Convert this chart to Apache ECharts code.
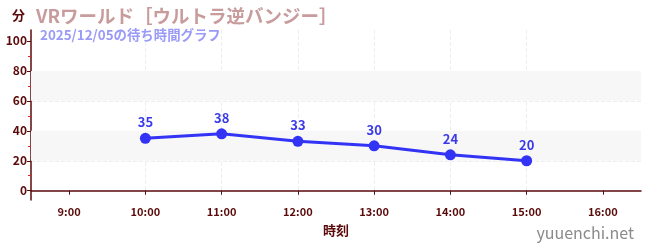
<!DOCTYPE html>
<html>
<head>
<meta charset="utf-8">
<script src="https://cdn.jsdelivr.net/npm/echarts@6/dist/echarts.min.js"></script>
<style>html,body{margin:0;padding:0;background:#fff;}#c{width:650px;height:250px;}</style>
</head>
<body>
<div id="c"></div>
<script>
const titleText = 'VRワールド［ウルトラ逆バンジー］';
const subtitleText = '2025/12/05の待ち時間グラフ';
const times = ['10:00', '11:00', '12:00', '13:00', '14:00', '15:00'];
const waits = [35, 38, 33, 30, 24, 20];
const xTickHours = [9, 10, 11, 12, 13, 14, 15, 16];
const yTickValues = [0, 20, 40, 60, 80, 100];
const yMinorValues = [10, 30, 50, 70, 90];
const bands = [[20, 40], [60, 80]];

const font = 'Noto Sans CJK JP';
const dark = '#5a0a0a';
const toHour = t => { const p = t.split(':'); return +p[0] + (+p[1]) / 60; };
const data = times.map((t, i) => [toHour(t), waits[i]]);

const chart = echarts.init(document.getElementById('c'), null, {renderer: 'canvas'});
chart.setOption({
  animation: false,
  textStyle: {fontFamily: font},
  title: [
    {text: titleText, left: 31, top: 2,
     textStyle: {fontFamily: font, fontSize: 18.5, fontWeight: 'bold', color: '#c89c9c'}},
    {text: subtitleText, left: 35, top: 23,
     textStyle: {fontFamily: font, fontSize: 13.4, fontWeight: 'bold', color: '#9a9af8'}}
  ],
  graphic: [
    {type: 'text', right: 16, top: 225,
     style: {text: 'yuuenchi.net', font: '16px "Noto Sans CJK JP"', fill: '#8a8a8a'}}
  ],
  grid: {left: 31, right: 9, top: 30, bottom: 50},
  xAxis: {
    type: 'value', min: 8.5, max: 16.5, splitNumber: 8,
    name: '時刻', nameLocation: 'middle', nameGap: 24,
    nameTextStyle: {fontFamily: font, fontSize: 13, fontWeight: 'bold', color: dark},
    axisLine: {lineStyle: {color: dark, width: 1.5}},
    axisTick: {customValues: xTickHours, length: 4, lineStyle: {color: dark}},
    axisLabel: {customValues: xTickHours, formatter: v => v + ':00', fontSize: 11, fontWeight: 'bold', color: dark, margin: 6},
    splitLine: {show: true, showMinLine: false, showMaxLine: false, lineStyle: {type: 'dashed', color: '#eeeeee'}}
  },
  yAxis: [
    {
      type: 'value', min: -6.2, max: 107.3,
      name: '分', nameLocation: 'end', nameGap: 8,
      nameTextStyle: {fontFamily: font, fontSize: 13, fontWeight: 'bold', color: dark, align: 'right', padding: [0, 6, 0, 0]},
      axisLine: {show: true, lineStyle: {color: dark, width: 1.5}},
      axisTick: {show: true, customValues: yTickValues, length: 4, lineStyle: {color: dark}},
      axisLabel: {customValues: yTickValues, fontSize: 12, fontWeight: 'bold', color: dark, margin: 4},
      splitLine: {show: true, showMinLine: false, showMaxLine: false, lineStyle: {type: 'dashed', color: '#eeeeee'}}
    },
    {
      type: 'value', min: -6.2, max: 107.3, position: 'left',
      axisLine: {show: false},
      axisTick: {show: true, customValues: yMinorValues, length: 3, lineStyle: {color: '#e02020'}},
      axisLabel: {show: false},
      splitLine: {show: false}
    }
  ],
  series: [{
    type: 'line', data: data, yAxisIndex: 0,
    symbol: 'circle', symbolSize: 11,
    lineStyle: {color: '#3333f5', width: 3},
    itemStyle: {color: '#3333f5'},
    label: {show: true, position: 'top', distance: 4, fontSize: 13, fontWeight: 'bold', color: '#3a3ae8', fontFamily: font},
    markArea: {
      silent: true,
      itemStyle: {color: '#f7f7f7'},
      data: bands.map(b => [{yAxis: b[0]}, {yAxis: b[1]}])
    }
  }]
});
</script>
</body>
</html>
